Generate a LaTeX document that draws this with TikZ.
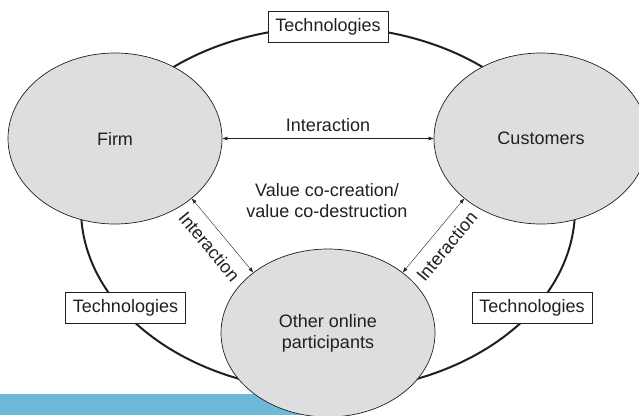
\documentclass[tikz,border=0pt]{standalone}
\usepackage{fontspec}
\setmainfont{Liberation Sans}
\usetikzlibrary{shapes.geometric,arrows.meta}
\definecolor{actorgray}{RGB}{221,222,224}
\definecolor{barblue}{RGB}{108,185,216}
\definecolor{inkgray}{RGB}{35,31,32}
\begin{document}
\begin{tikzpicture}
[x=1pt,y=-1pt,
  every node/.style={font=\fontsize{18}{21}\selectfont,text=inkgray},
  actorDecorate/.style={shape=ellipse,draw=inkgray,fill=actorgray,line width=0.7pt,%
    minimum width=214pt,minimum height=171pt,inner sep=0pt,align=center},
  techDecorate/.style={shape=rectangle,draw=inkgray,fill=white,line width=0.8pt,%
    minimum width=120pt,minimum height=31pt,inner sep=0pt},
  ringDecorate/.style={shape=ellipse,draw=inkgray,line width=2pt,%
    minimum width=494pt,minimum height=364pt,inner sep=0pt},
  lineDecorate/.style={{Latex[length=5pt,width=4pt]}-{Latex[length=5pt,width=4pt]},%
    line width=0.4pt,draw=inkgray}]
\useasboundingbox (0,0) rectangle (639,415);
%% ring and bar
\node (ring) at (328,209) [ringDecorate] {};
\fill[barblue] (0,394) rectangle (328,415);
%% technologies boxes
\foreach \nodename/\x/\y in {
  techtop/328/26.5, techleft/125.5/308, techright/532/308}
{
  \node (\nodename) at (\x,\y) [techDecorate] {Technologies};
}
%% actors
\node (firm) at (115,138.5) [actorDecorate] {Firm};
\node (customers) at (541,138.5) [actorDecorate] {Customers};
\node (other) at (328,333) [actorDecorate,minimum height=168pt] {Other online\\participants};
\node (value) at (327,201) [align=center] {Value co-creation/\\value co-destruction};
%% interactions
\path
  (firm.east) edge[lineDecorate] node[above=3pt] {Interaction} (customers.west)
  (firm.-38) edge[lineDecorate] node[sloped,below=7pt] {Interaction} (other.141)
  (other.39) edge[lineDecorate] node[sloped,below=7pt] {Interaction} (customers.218);
\end{tikzpicture}
\end{document}
